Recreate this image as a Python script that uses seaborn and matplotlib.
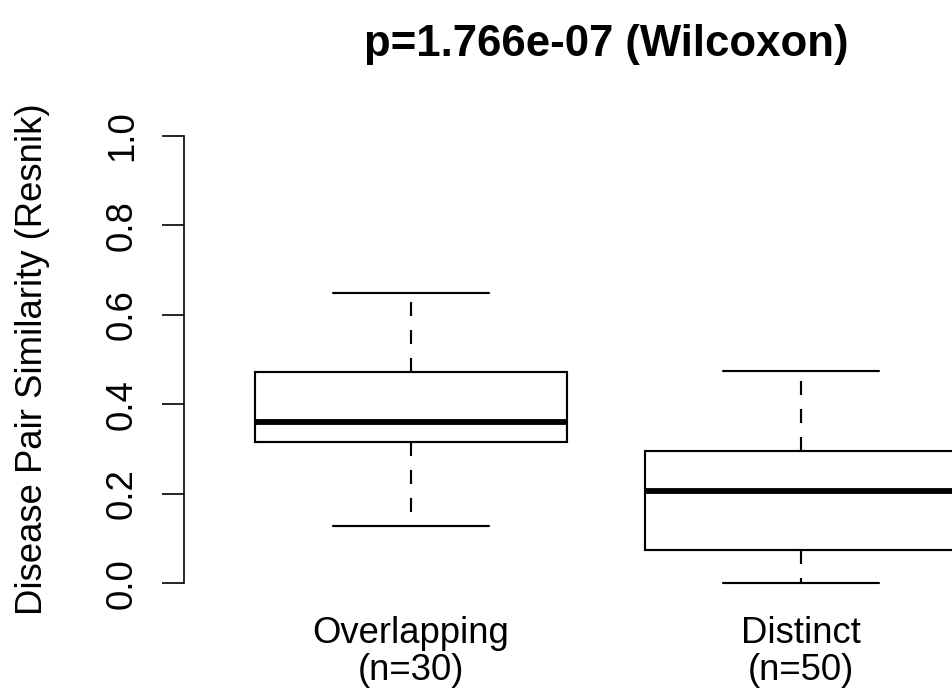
import numpy as np
import pandas as pd
import matplotlib
matplotlib.use("Agg")
import matplotlib.pyplot as plt
import seaborn as sns

# Five-number summaries: [min, q1, median, q3, max]
groups = ["Overlapping", "Distinct"]
group_n = [30, 50]
overlapping_vals = [0.127, 0.315, 0.361, 0.472, 0.648]
distinct_vals = [0.0, 0.074, 0.207, 0.296, 0.475]
y_ticks = [0.0, 0.2, 0.4, 0.6, 0.8, 1.0]
title = "p=1.766e-07 (Wilcoxon)"
y_label = "Disease Pair Similarity (Resnik)"

df = pd.DataFrame({
    "group": [groups[0]] * len(overlapping_vals) + [groups[1]] * len(distinct_vals),
    "value": overlapping_vals + distinct_vals,
})

sns.set_theme(style="white")
plt.rcParams["font.family"] = ["Liberation Sans", "DejaVu Sans"]
plt.rcParams["text.color"] = "black"

fig = plt.figure(figsize=(9.52, 6.98), dpi=100)
ax = fig.add_axes([0.1936, 0.1387, 0.8857, 0.6921])

lw = 1.55
sns.boxplot(
    data=df, x="group", y="value", order=groups, ax=ax,
    width=0.8, whis=1.5, color="white", saturation=1, linecolor="black",
    linewidth=lw, showfliers=False,
    medianprops={"linewidth": 4.2, "color": "black"},
    whiskerprops={"linestyle": (0, (6.5, 6.5)), "linewidth": lw, "color": "black"},
    capprops={"linewidth": lw, "color": "black"},
    boxprops={"facecolor": "white", "edgecolor": "black", "linewidth": lw},
)

ax.set_xlim(-0.58, 1.58)
ax.set_ylim(-0.04, 1.04)
for s in ["top", "right", "bottom"]:
    ax.spines[s].set_visible(False)
ax.spines["left"].set_bounds(0, 1)
ax.spines["left"].set_color("black")
ax.spines["left"].set_linewidth(1.2)

ax.set_yticks(y_ticks)
ax.set_yticklabels([f"{v:.1f}" for v in y_ticks])
ax.tick_params(axis="y", length=16, width=1.2, color="black", pad=16,
               labelsize=26.3, labelcolor="black", left=True)
for t in ax.get_yticklabels():
    t.set_rotation(90)
    t.set_va("center")
    t.set_ha("right")

ax.set_xticks([0, 1])
ax.set_xticklabels([f"{g}\n(n={n})" for g, n in zip(groups, group_n)],
                   linespacing=1.05)
ax.tick_params(axis="x", length=0, pad=11, labelsize=26.3, labelcolor="black")

ax.set_xlabel("")
ax.set_ylabel(y_label, fontsize=26.3, color="black")
ax.yaxis.set_label_coords(-0.159, 0.5)

fig.text(606 / 952, 1 - 56 / 698, title, ha="center", va="baseline",
         fontsize=31.5, fontweight="bold", color="black")

fig.savefig("out.png", dpi=100, facecolor="white")
